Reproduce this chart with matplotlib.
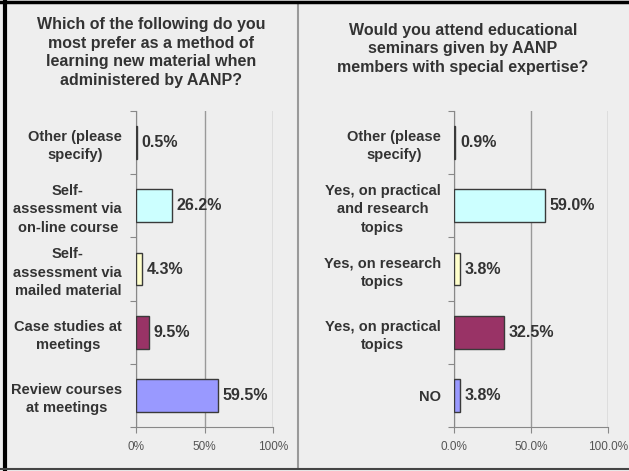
import matplotlib.pyplot as plt
from matplotlib.lines import Line2D
import numpy as np

# left chart data
left_title = "Which of the following do you\nmost prefer as a method of\nlearning new material when\nadministered by AANP?"
left_cats = ["Other (please\nspecify)", "Self-\nassessment via\non-line course",
             "Self-\nassessment via\nmailed material", "Case studies at\nmeetings",
             "Review courses\nat meetings"]
left_vals = [0.5, 26.2, 4.3, 9.5, 59.5]
left_ticks = ["0%", "50%", "100%"]

# right chart data
right_title = "Would you attend educational\nseminars given by AANP\nmembers with special expertise?"
right_cats = ["Other (please\nspecify)", "Yes, on practical\nand research\ntopics",
              "Yes, on research\ntopics", "Yes, on practical\ntopics", "NO"]
right_vals = [0.9, 59.0, 3.8, 32.5, 3.8]
right_ticks = ["0.0%", "50.0%", "100.0%"]

colors = ['#660066', '#ccffff', '#ffffcc', '#993366', '#9999ff']
txt = '#333333'
bg = '#eeeeee'

plt.rcParams['font.family'] = ['Liberation Sans', 'DejaVu Sans']

fig = plt.figure(figsize=(6.29, 4.71), dpi=100, facecolor=bg)
W, H = 629., 471.


def draw(ax, cats, vals, ticks, pad):
    ax.set_facecolor(bg)
    y = np.arange(len(cats))
    ax.barh(y, vals, height=0.52, color=colors, edgecolor='#3a3a3a', linewidth=1, zorder=3)
    ax.set_xlim(0, 100)
    ax.set_ylim(len(cats) - 0.5, -0.5)
    ax.set_xticks([0, 50, 100])
    ax.set_xticklabels(ticks, color='#555555', fontsize=8.5)
    ax.set_yticks(np.arange(len(cats) + 1) - 0.5)
    ax.set_yticklabels([])
    ax.set_yticks(y, minor=True)
    ax.set_yticklabels(cats, minor=True, fontsize=10.5, fontweight='bold', color=txt,
                       multialignment='center', linespacing=1.4)
    ax.tick_params(axis='y', which='minor', length=0, pad=pad)
    ax.tick_params(axis='y', which='major', length=4, color='#888888')
    ax.tick_params(axis='x', length=4, color='#888888', pad=6)
    ax.xaxis.grid(True, color='#999999', linewidth=1, zorder=0)
    for s in ['top', 'right']:
        ax.spines[s].set_visible(False)
    for s in ['left', 'bottom']:
        ax.spines[s].set_color('#888888')
    for yi, v in zip(y, vals):
        ax.annotate(f"{v:.1f}%", (v, yi), xytext=(3.5, 0), textcoords='offset points',
                    ha='left', va='center', fontsize=11.5, fontweight='bold', color=txt)


axl = fig.add_axes([136 / W, 44 / H, 137 / W, 316 / H])
draw(axl, left_cats, left_vals, left_ticks, 10)
axr = fig.add_axes([454 / W, 44 / H, 154 / W, 316 / H])
draw(axr, right_cats, right_vals, right_ticks, 9.5)

fig.text(151 / W, 1 - 52.5 / H, left_title, ha='center', va='center', fontsize=11.5,
         fontweight='bold', color=txt, linespacing=1.32)
fig.text(463 / W, 1 - 49 / H, right_title, ha='center', va='center', fontsize=11.5,
         fontweight='bold', color=txt, linespacing=1.32)

# frame and divider
fig.add_artist(Line2D([298 / W, 298 / W], [3 / H, 1 - 3 / H], color='#999999', linewidth=1.5))
fig.add_artist(Line2D([0, 1], [1 - 1.5 / H, 1 - 1.5 / H], color='black', linewidth=2.5))
fig.add_artist(Line2D([4.5 / W, 4.5 / W], [0, 1], color='black', linewidth=3))
fig.add_artist(Line2D([0, 1], [2 / H, 2 / H], color='#444444', linewidth=1.5))

fig.savefig('out.png', dpi=100, facecolor=bg)
